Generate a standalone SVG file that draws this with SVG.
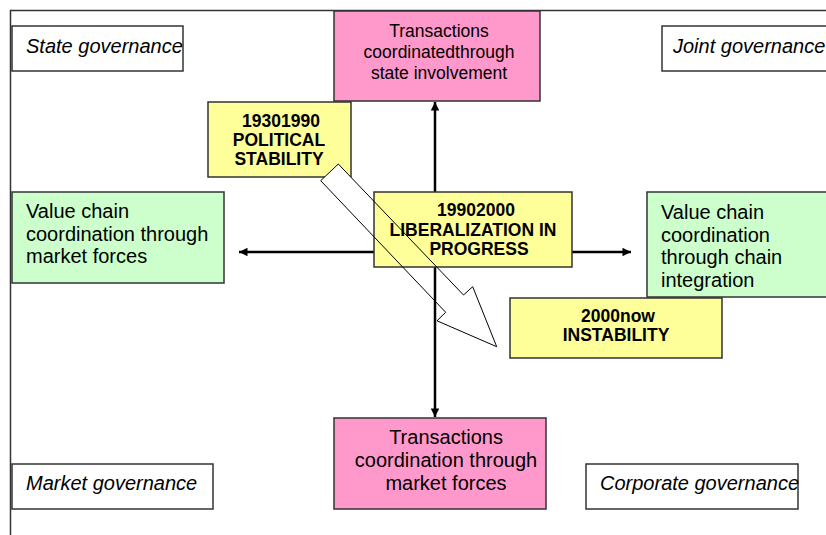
<svg xmlns="http://www.w3.org/2000/svg" width="826" height="535" viewBox="0 0 826 535">
<style>
.box{stroke:#333;stroke-width:1.5}
.gov{fill:#fff}
.pink{fill:#ff99cc}
.yel{fill:#ffff99}
.grn{fill:#ccffcc}
text{font-family:"Liberation Sans",Arial,sans-serif;fill:#000}
.it{font-size:20px;font-style:italic}
.reg{font-size:20px}
.sm{font-size:17.5px}
.b{font-size:17.5px;font-weight:bold}
.mid{text-anchor:middle}
.axis{stroke:#000;stroke-width:2.5;fill:none}
</style>
<defs>
<marker id="ah" viewBox="0 0 10 10" refX="10" refY="5" markerWidth="4.2" markerHeight="3.4" orient="auto" markerUnits="strokeWidth">
<path d="M0,0 L10,5 L0,10 z" fill="#000"/>
</marker>
</defs>
<rect x="0" y="0" width="826" height="535" fill="#fff"/>
<path d="M10.5,535 V10.5 H826" fill="none" stroke="#333" stroke-width="1.5"/>

<g id="state-governance"><rect class="box gov" x="12" y="26" width="171" height="45"/><text class="it" x="26" y="53">State governance</text></g>
<g id="joint-governance"><rect class="box gov" x="662" y="26" width="200" height="45"/><text class="it" x="673" y="53">Joint governance</text></g>
<g id="market-governance"><rect class="box gov" x="12" y="464" width="201" height="45"/><text class="it" x="26" y="490">Market governance</text></g>
<g id="corporate-governance"><rect class="box gov" x="586" y="464" width="212" height="45"/><text class="it" x="600" y="490">Corporate governance</text></g>

<g id="state-transactions"><rect class="box pink" x="334" y="11" width="206" height="90"/>
<text class="sm mid" x="439" y="37">Transactions</text>
<text class="sm mid" x="439" y="58">coordinatedthrough</text>
<text class="sm mid" x="439" y="79">state involvement</text></g>

<g id="market-transactions"><rect class="box pink" x="334" y="418" width="212" height="91"/>
<text class="reg mid" x="446" y="444">Transactions</text>
<text class="reg mid" x="446" y="467">coordination through</text>
<text class="reg mid" x="446" y="490">market forces</text></g>

<g id="value-chain-market"><rect class="box grn" x="12" y="192" width="212" height="91"/>
<text class="reg" x="26" y="218">Value chain</text>
<text class="reg" x="26" y="240.5">coordination through</text>
<text class="reg" x="26" y="263">market forces</text></g>

<g id="value-chain-integration"><rect class="box grn" x="647" y="192" width="200" height="105"/>
<text class="reg" x="661" y="219">Value chain</text>
<text class="reg" x="661" y="241.5">coordination</text>
<text class="reg" x="661" y="264">through chain</text>
<text class="reg" x="661" y="286.5">integration</text></g>

<g id="period-1930"><rect class="box yel" x="208" y="102" width="143" height="75"/>
<text class="b mid" x="281" y="127">19301990</text>
<text class="b mid" x="279" y="146">POLITICAL</text>
<text class="b mid" x="279" y="165">STABILITY</text></g>

<path id="trend-arrow-fill" d="M338.3,164 L463.5,295 L472.7,286.7 L496.7,346.7 L437,320.8 L445.7,312.3 L320.7,180.7 Z" fill="#fff" stroke="none"/>

<g id="connectors">
<line class="axis" x1="435" y1="252" x2="435" y2="102" marker-end="url(#ah)"/>
<line class="axis" x1="435" y1="252" x2="435" y2="417" marker-end="url(#ah)"/>
<line class="axis" x1="435" y1="252" x2="239" y2="252" marker-end="url(#ah)"/>
<line class="axis" x1="435" y1="252" x2="631" y2="252" marker-end="url(#ah)"/>
</g>

<g id="period-1990"><rect class="box yel" x="374" y="192" width="198" height="75"/>
<text class="b mid" x="476" y="215.5">19902000</text>
<text class="b mid" x="473" y="235.5">LIBERALIZATION IN</text>
<text class="b mid" x="479" y="255">PROGRESS</text></g>

<g id="period-2000"><rect class="box yel" x="510" y="298" width="212" height="60"/>
<text class="b mid" x="618" y="321.5">2000now</text>
<text class="b mid" x="616" y="341">INSTABILITY</text></g>

<g id="trend-arrow">
<path d="M338.3,164 L463.5,295 L472.7,286.7 L496.7,346.7 L437,320.8 L445.7,312.3 L320.7,180.7 Z" fill="none" stroke="#000" stroke-width="1"/>
</g>
</svg>
